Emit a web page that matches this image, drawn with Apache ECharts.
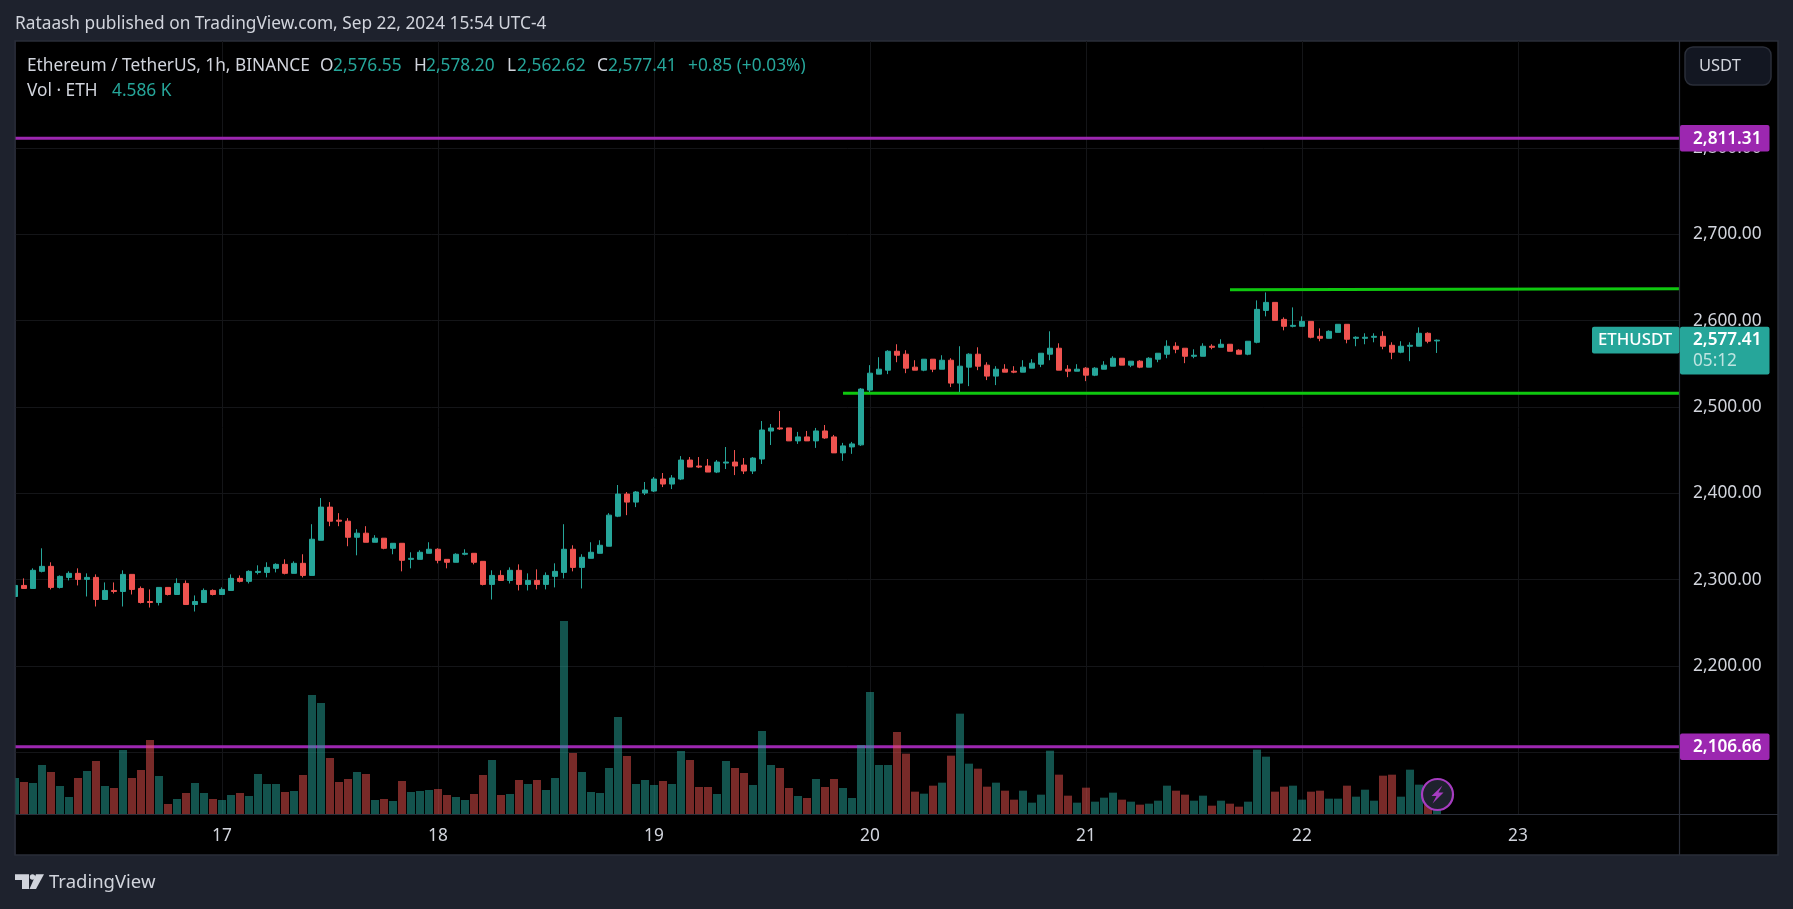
<!DOCTYPE html>
<html><head><meta charset="utf-8">
<style>html,body{margin:0;padding:0;background:#1e222d;overflow:hidden}#c{width:1793px;height:909px}</style>
<script src="https://cdn.jsdelivr.net/npm/echarts@6/dist/echarts.min.js"></script>
</head><body><div id="c"></div>
<script>
const opens=[2280.6,2293.4,2289.9,2309.7,2315.5,2291.1,2302.7,2307.4,2300.4,2302.7,
2277.1,2287.6,2286.4,2306.2,2289.9,2274.8,2273.6,2291.1,2282.9,2295.7,
2271.3,2273.6,2287.6,2282.9,2287.6,2301.6,2298.1,2308.5,2308.5,2313.2,
2317.8,2307.4,2319,2305,2345.7,2384.1,2369,2367.8,2349.2,2353.9,
2343.4,2348.1,2336.4,2342.2,2323.6,2323.6,2330.6,2335.3,2323.6,2320.2,
2329.5,2330.6,2321.3,2294.6,2305,2299.2,2310.9,2294.6,2299.2,2294.6,
2303.9,2308.5,2335.3,2314.3,2324.8,2330.6,2338.8,2373.6,2399.2,2389.9,
2400.4,2402.7,2416.6,2410.8,2416.6,2438.6,2431.7,2431.7,2424.7,2435.1,
2436.3,2432.8,2425.9,2439.8,2472.2,2475.8,2475.8,2460.8,2465.4,2460.8,
2472.3,2465.4,2446.9,2453.8,2456.2,2519.6,2538.1,2542.7,2564.6,2561.2,
2546.2,2542.7,2555.4,2543.8,2554.2,2527.7,2546.2,2561.2,2548.5,2535.8,
2543.8,2541.5,2540.4,2545,2549.6,2561.2,2568.1,2543.8,2541.5,2545,
2536.9,2543.8,2547.3,2556.5,2548.5,2553.1,2546.2,2555.4,2561.2,2570.4,
2568.1,2558.8,2558.8,2570.4,2569.2,2572.7,2565.8,2561.2,2575,2611.9,
2621.2,2601.5,2593.5,2593.5,2599.2,2581.9,2579.6,2586.5,2595.8,2579.6,
2579.6,2580.8,2581.9,2571.5,2563.5,2570.4,2570.4,2585.4,2576.55];
const closes=[2293.4,2289.9,2310.9,2315.5,2291.1,2303.9,2307.4,2300.4,2302.7,2277.1,
2287.6,2286.4,2306.2,2288.8,2273.6,2273.6,2291.1,2282.9,2295.7,2271.3,
2274.8,2287.6,2282.9,2288.8,2301.6,2298.1,2309.7,2309.7,2314.3,2317.8,
2307.4,2319,2305,2346.9,2384.1,2367.8,2367.8,2349.2,2353.9,2343.4,
2348.1,2336.4,2342.2,2322.5,2324.8,2331.8,2335.3,2322.5,2320.2,2329.5,
2330.6,2320.2,2294.6,2305,2299.2,2310.9,2294.6,2299.2,2294.6,2305,
2309.7,2335.3,2314.3,2326,2331.8,2339.9,2374.8,2399.2,2389.9,2401.6,
2403.9,2416.6,2410.8,2417.8,2438.6,2430.5,2430.5,2424.7,2436.3,2436.3,
2431.7,2425.9,2440.9,2473.4,2475.7,2474.6,2460.8,2465.4,2460.8,2472.3,
2464.2,2446.9,2455,2457.3,2520.8,2539.2,2543.8,2564.6,2560,2545,
2542.7,2555.4,2543.8,2554.2,2527.7,2547.3,2561.2,2547.3,2535.8,2543.8,
2540.4,2540.4,2546.2,2550.8,2562.3,2568.1,2542.7,2541.5,2543.8,2536.9,
2545,2548.5,2556.5,2548.5,2553.1,2546.2,2556.5,2562.3,2570.4,2566.9,
2558.8,2560,2570.4,2569.2,2572.7,2564.6,2561.2,2576.2,2613.1,2621.2,
2600.4,2593.5,2594.6,2599.2,2580.8,2579.6,2587.7,2595.8,2578.5,2580.8,
2580.8,2581.9,2570.4,2563.5,2570.4,2571.5,2585.4,2576.2,2577.41];
const lows=[2280.6,2289.9,2289.9,2308.5,2288.8,2289.9,2299.2,2293.4,2280.6,2269,
2277.1,2284.1,2269,2282.9,2272.5,2267.8,2270.2,2281.8,2282.9,2271.3,
2263.2,2273.6,2281.8,2282.9,2287.6,2296.9,2295.7,2306.2,2302.7,2308.5,
2306.2,2307.4,2302.7,2305,2345.7,2362,2362,2338.8,2328.3,2343.4,
2343.4,2335.3,2329.5,2309.7,2313.2,2323.6,2330.6,2319,2313.2,2320.2,
2328.3,2317.8,2293.4,2277.1,2299.2,2295.7,2287.6,2287.6,2288.8,2288.8,
2291.1,2301.6,2309.7,2289.9,2324.8,2330.6,2338.8,2372.5,2374.8,2384.1,
2398.1,2401.5,2407.3,2405,2415.4,2430.5,2429.3,2424.7,2423.5,2428.2,
2421.2,2422.4,2422.4,2434,2456,2473.5,2460.8,2457.3,2460.8,2452.7,
2463.1,2446.9,2437.7,2445.8,2455,2517.3,2538.1,2538.1,2551.9,2539.2,
2542.7,2541.5,2540.4,2543.8,2523.1,2517.3,2524.2,2542.7,2531.2,2525.4,
2540.4,2539.2,2540.4,2545,2546.2,2554.2,2542.7,2534.6,2541.5,2530,
2535.8,2543.8,2547.3,2548.5,2546.2,2545,2546.2,2551.9,2556.5,2562.3,
2550.8,2556.5,2558.8,2566.9,2569.2,2564.6,2561.2,2560,2573.8,2605,
2600.4,2588.8,2592.3,2593.5,2579.6,2576.2,2579.6,2586.5,2573.8,2570.4,
2572.7,2575,2566.9,2555.4,2562.3,2553.1,2570.4,2573.8,2562.62];
const highs=[2296.1,2301.6,2313.2,2336.4,2320.2,2305,2309.7,2313.2,2307.4,2306.2,
2296.9,2296.9,2310.9,2306.2,2292.2,2288.8,2291.1,2291.1,2301.6,2299.2,
2281.8,2289.9,2288.8,2291.1,2306.2,2305,2310.9,2316.7,2320.2,2319,
2323.6,2321.3,2329.5,2364.3,2394.6,2389.9,2377.1,2371.3,2358.5,2362,
2351.6,2348.1,2342.2,2342.2,2331.8,2334.1,2343.4,2336.4,2323.6,2330.6,
2335.3,2330.6,2321.3,2310.9,2310.9,2314.3,2317.8,2307.4,2312,2308.5,
2319,2364.3,2339.9,2329.5,2343.4,2345.7,2377.1,2409.7,2401.6,2402.7,
2413.2,2418.9,2423.6,2421.2,2443.2,2442.1,2442.1,2439.8,2438.6,2453.7,
2450.2,2440.9,2442.1,2483.8,2480.3,2495.4,2475.8,2471.2,2472.3,2475.8,
2479.2,2467.7,2458.5,2459.6,2521.9,2548.5,2557.7,2565.8,2572.7,2565.8,
2554.2,2555.4,2555.4,2560,2556.5,2570.4,2562.3,2569.2,2551.9,2547.3,
2549.6,2547.3,2554.2,2555.4,2562.3,2587.7,2573.8,2548.5,2549.6,2546.2,
2546.2,2553.1,2558.8,2556.5,2553.1,2554.2,2557.7,2562.3,2577.3,2575,
2568.1,2566.9,2573.8,2572.7,2578.5,2572.7,2566.9,2576.2,2623.5,2632.7,
2621.2,2603.8,2615.4,2605,2599.2,2591.1,2588.8,2595.8,2595.8,2581.9,
2585.4,2585.4,2587.7,2575,2576.2,2575,2592.3,2586.5,2578.2];
const volumes=[10.8,9.6,9.3,14.7,12.6,8.4,5.1,10.8,12.9,15.9,
8.4,7.8,19.2,10.8,13.2,22.2,11.4,3,4.5,6.3,
9.3,6.3,4.5,4.2,5.7,6.3,5.4,12,9,9,
6.6,6.9,11.7,35.7,33.3,16.8,9.6,10.5,12.6,12,
4.2,4.5,3.9,9.9,6.6,6.9,7.2,7.5,5.7,5.1,
4.2,6,11.7,16.2,5.7,6,10.2,9,10.2,7.2,
10.8,57.9,18.3,12.6,6.6,6.3,13.8,29.1,17.4,9,
10.2,8.7,9.9,9,18.9,16.2,8.1,8.1,6,15.9,
13.8,12.3,8.7,24.9,14.7,13.8,7.8,5.4,4.8,10.5,
8.1,10.5,7.8,4.8,20.7,36.6,14.7,14.7,24.6,18.1,
6.7,6.1,8.5,9.4,17.5,30.1,15.1,13.6,8.2,9.4,
7,4.3,7,3.4,5.8,19,11.8,5.5,3.4,7.9,
3.7,4.9,6.4,4.3,3.7,2.8,3.1,4,8.5,7,
5.8,4,5.5,2.5,4,3.1,2.2,3.7,19.3,17.2,
6.7,8.2,8.5,4.3,6.7,7,4.6,4.6,8.5,5.2,
7.3,4,11.5,11.8,5.2,13.3,8.8,5,4.586];
const priceTicks=[2100,2200,2300,2400,2500,2600,2700,2800];
const magentaLevels=[2811.31,2106.66];
const lastPrice=2577.41;
const FIRST_HOUR=1, FIRST_DAY=16, TOTAL_SLOTS=186;
const categories=[];
for(let i=0;i<TOTAL_SLOTS;i++){const t=FIRST_HOUR+i;categories.push({day:FIRST_DAY+Math.floor(t/24),hour:t%24});}
const catLabels=categories.map(c=>c.hour===0?String(c.day):'');
const supportLine=[[92,2515.9],[185,2515.9]];
const resistLine=[[135,2635.7],[185,2637.0]];

const UP='#26a69a',DOWN='#ef5350',FONT='"Noto Sans",sans-serif',TXT='#d1d4dc',MAG='#9c27b0',LIME='#0fc70f',PAGE='#1e222d',FS=17.3;
const candle=opens.map((o,i)=>[o,closes[i],lows[i],highs[i]]);
const vols=volumes.map((v,i)=>({value:v,itemStyle:{color:closes[i]>=opens[i]?'rgba(38,166,154,0.5)':'rgba(239,83,80,0.5)'}}));
const hline=(d,c,w)=>({type:'line',data:d,symbol:'none',silent:true,animation:false,z:1,lineStyle:{color:c,width:w}});

const chart=echarts.init(document.getElementById('c'),null,{renderer:'canvas',width:1793,height:909});
chart.setOption({
 animation:false,backgroundColor:PAGE,
 grid:{left:15,top:41,width:1665,height:773,show:false},
 xAxis:{type:'category',data:catLabels,boundaryGap:false,
  axisLine:{show:false},axisTick:{show:false},
  axisLabel:{color:TXT,fontFamily:FONT,fontSize:FS,margin:14,interval:(i,v)=>v!=='',hideOverlap:false},
  splitLine:{show:true,interval:(i,v)=>v!=='',lineStyle:{color:'#141518',width:1}}},
 yAxis:[
  {type:'value',position:'right',min:2028.7,max:2923.9,
   axisLine:{show:false},axisTick:{show:false,customValues:priceTicks},
   axisLabel:{customValues:priceTicks,color:TXT,fontFamily:FONT,fontSize:FS,margin:13,padding:[0,0,3,0],
     formatter:v=>v.toLocaleString('en-US',{minimumFractionDigits:2})},
   splitLine:{show:true,lineStyle:{color:'#141518',width:1}}},
  {type:'value',show:false,min:0,max:231.9,splitLine:{show:false}}],
 series:[
  hline([[0,magentaLevels[0]],[185,magentaLevels[0]]],MAG,3),
  hline([[0,magentaLevels[1]],[185,magentaLevels[1]]],MAG,3),
  hline(supportLine,LIME,3),
  hline(resistLine,LIME,3),
  {type:'bar',data:vols,yAxisIndex:1,barWidth:8,z:2,silent:true,animation:false},
  {type:'candlestick',data:candle,barWidth:6,z:3,silent:true,animation:false,
   itemStyle:{color:UP,color0:DOWN,borderColor:UP,borderColor0:DOWN,borderWidth:1}}
 ]});

const yPx=p=>chart.convertToPixel({yAxisIndex:0},p);
const fmt=p=>p.toLocaleString('en-US',{minimumFractionDigits:2});
const T=(x,y,text,fill,size,weight)=>({type:'text',z:50,style:{x,y,text,fill,font:(weight||'400')+' '+(size||FS)+'px '+FONT,textVerticalAlign:'middle',textBaseline:'middle'}});
const R=(x,y,w,h,fill,stroke,r)=>({type:'rect',z:40,shape:{x,y,width:w,height:h,r:r||0},style:{fill,stroke:stroke||null,lineWidth:stroke?1.5:0}});
const L=(x1,y1,x2,y2)=>({type:'line',z:30,shape:{x1,y1,x2,y2},style:{stroke:'#2a2e39',lineWidth:1.2}});
const gfx=[];
// panel
gfx.push({type:'rect',z:-10,shape:{x:15,y:41,width:1763,height:814},style:{fill:'#000',stroke:'#2a2e39',lineWidth:1.5}});
// mask that clips the first half-candle at the panel edge
gfx.push({type:'rect',z:20,shape:{x:0,y:41,width:15,height:773},style:{fill:PAGE}});
gfx.push(L(15,41,15,855),L(1679.5,41,1679.5,855),L(15,814.5,1778,814.5));
// header
gfx.push(T(15,24,'Rataash published on TradingView.com, Sep 22, 2024 15:54 UTC-4',TXT));
gfx.push(T(27,66,'Ethereum / TetherUS, 1h, BINANCE',TXT));
[[320,'O',333,'2,576.55'],[414,'H',426,'2,578.20'],[507,'L',517,'2,562.62'],[597,'C',608,'2,577.41']].forEach(a=>{
 gfx.push(T(a[0],66,a[1],TXT),T(a[2],66,a[3],UP));});
gfx.push(T(688,66,'+0.85 (+0.03%)',UP));
gfx.push(T(27,91,'Vol · ETH',TXT),T(112,91,'4.586 K',UP));
// USDT button
gfx.push(R(1685,47,86,38,'#131722','#2a2e39',8),T(1699,66,'USDT',TXT,16.5));
// magenta tags
magentaLevels.forEach(p=>{const y=yPx(p);
 gfx.push(R(1680,y-13.3,89.5,26.7,MAG,null,2),T(1693,y+0.5,fmt(p),'#fff',17.2,'600'));});
// current price tags
const yLast=yPx(lastPrice);
gfx.push(R(1680,yLast-13.5,89.5,47.7,UP,null,2),T(1693,yLast,fmt(lastPrice),'#fff',17.2,'600'),T(1693,yLast+21,'05:12','rgba(255,255,255,0.7)',17.2));
gfx.push(R(1592,yLast-13.5,87.5,26.7,UP,null,2),T(1598,yLast+0.5,'ETHUSDT','#fff',16.8,'500'));
// bubble
const bx=1437.5,by=794.5;
gfx.push({type:'circle',z:45,shape:{cx:bx,cy:by,r:15.5},style:{fill:PAGE,stroke:'#a63cc0',lineWidth:2.2}});
gfx.push({type:'polygon',z:46,shape:{points:[[bx+5,by-9],[bx-6,by+1.5],[bx-1,by+1.5],[bx-5,by+9],[bx+6,by-2],[bx+1,by-2]]},style:{fill:'#a63cc0'}});
// footer logo
const lc='#d1d4dc';
gfx.push({type:'polygon',z:40,shape:{points:[[15,874.3],[29,874.3],[29,889],[22,889],[22,880],[15,880]]},style:{fill:lc}});
gfx.push({type:'circle',z:40,shape:{cx:32.5,cy:877,r:2.7},style:{fill:lc}});
gfx.push({type:'polygon',z:40,shape:{points:[[36,874.3],[44,874.3],[36,889],[29.5,889]]},style:{fill:lc}});
gfx.push(T(49,883,'TradingView',TXT,18.5));
chart.setOption({graphic:{elements:gfx}});
</script></body></html>
